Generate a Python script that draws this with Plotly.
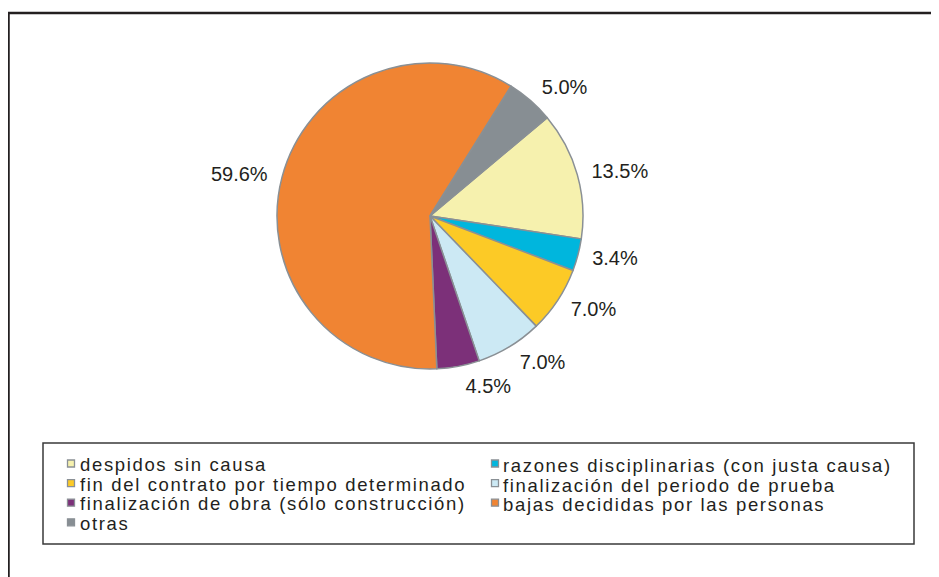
import plotly.graph_objects as go

categories = [
    "despidos sin causa",
    "razones disciplinarias (con justa causa)",
    "fin del contrato por tiempo determinado",
    "finalización del periodo de prueba",
    "finalización de obra (sólo construcción)",
    "bajas decididas por las personas",
    "otras",
]
values = [13.5, 3.4, 7.0, 7.0, 4.5, 59.6, 5.0]
colors = ["#F6F1AE", "#00B6DD", "#FCCA26", "#CCE9F4", "#7C3079", "#F08433", "#878E93"]

W, H = 939, 577
OFF = 8  # page body margin: the figure starts 8px in from the window corner
FONT = "Liberation Sans, Arial, Helvetica, sans-serif"
INK = "#231F20"


def px(x):
    """window x pixel -> paper fraction"""
    return (x - OFF) / W


def py(y):
    """window y pixel -> paper fraction"""
    return 1 - (y - OFF) / H


def dom(cx, cy, r):
    return dict(x=[px(cx - r), px(cx + r)], y=[py(cy + r), py(cy - r)])


cx, cy, r = 430, 216, 153
r_lab = 162

fig = go.Figure()
# label carrier: same data, transparent slices, slightly larger radius
fig.add_trace(go.Pie(
    labels=categories, values=values, sort=False, direction="clockwise", rotation=50,
    marker=dict(colors=["rgba(0,0,0,0)"] * len(values), line=dict(width=0)),
    texttemplate="%{percent:.1%}", textposition="outside",
    textfont=dict(family=FONT, size=20, color=INK),
    domain=dom(cx, cy, r_lab), showlegend=False, hoverinfo="skip",
))
# visible pie
fig.add_trace(go.Pie(
    labels=categories, values=values, sort=False, direction="clockwise", rotation=50,
    marker=dict(colors=colors, line=dict(color="#8A9095", width=1.5)),
    textinfo="none",
    domain=dom(cx, cy, r), showlegend=False, hoverinfo="label+percent",
))

shapes = []
annotations = []

# outer frame (clipped at right/bottom like the reference)
shapes.append(dict(type="rect", xref="paper", yref="paper",
                   x0=px(8.5), y0=py(13), x1=px(W + 40), y1=py(H + 40),
                   line=dict(color=INK, width=2.5), fillcolor="rgba(0,0,0,0)"))

# legend box
shapes.append(dict(type="rect", xref="paper", yref="paper",
                   x0=px(43), y0=py(443), x1=px(914), y1=py(544),
                   line=dict(color="#3A3A3A", width=1.5), fillcolor="rgba(0,0,0,0)"))

col_marker_x = [71, 495]
col_text_x = [78, 501]
row0_y, row_dy, msz = 463.5, 19.6, 3.5
inner_size = 18.5

cols = {0: [], 1: []}
for i, (cat, col) in enumerate(zip(categories, colors)):
    row, c = divmod(i, 2)
    yc = row0_y + row * row_dy
    mx = col_marker_x[c]
    shapes.append(dict(type="rect", xref="paper", yref="paper",
                       x0=px(mx - msz), x1=px(mx + msz), y0=py(yc + msz), y1=py(yc - msz),
                       line=dict(color="#8A9095", width=1.3), fillcolor=col))
    cols[c].append((row, cat))

for c, items in cols.items():
    rows = [rw for rw, _ in items]
    ymid = row0_y + row_dy * (rows[0] + rows[-1]) / 2
    txt = "<br>".join(
        f"<span style='font-size:{inner_size}px;letter-spacing:1.65px'>{cat}</span>" for _, cat in items
    )
    annotations.append(dict(xref="paper", yref="paper", x=px(col_text_x[c]), y=py(ymid + 1.5),
                            xanchor="left", yanchor="middle", align="left", showarrow=False,
                            text=txt, font=dict(family=FONT, size=row_dy / 1.3, color=INK)))

fig.update_layout(
    width=W, height=H,
    margin=dict(l=0, r=0, t=0, b=0),
    paper_bgcolor="white", plot_bgcolor="white",
    shapes=shapes, annotations=annotations,
)

fig.write_html("out.html")
